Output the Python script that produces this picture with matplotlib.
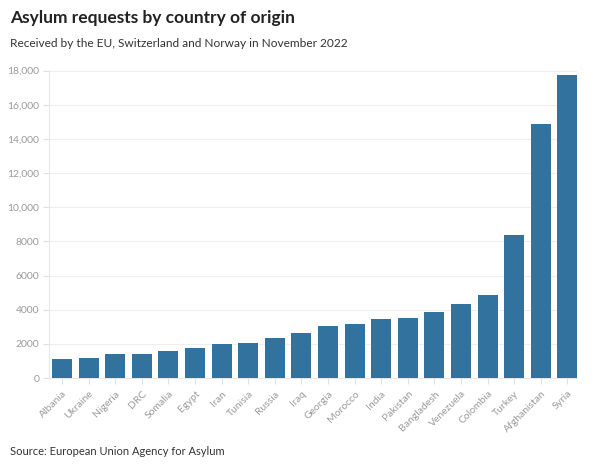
import matplotlib
matplotlib.use("Agg")
import matplotlib.pyplot as plt
from matplotlib.ticker import FuncFormatter

countries = ["Albania", "Ukraine", "Nigeria", "DRC", "Somalia", "Egypt", "Iran",
             "Tunisia", "Russia", "Iraq", "Georgia", "Morocco", "India", "Pakistan",
             "Bangladesh", "Venezuela", "Colombia", "Turkey", "Afghanistan", "Syria"]
requests = [1140, 1170, 1390, 1390, 1560, 1780, 1990, 2030, 2340, 2610,
            3020, 3140, 3450, 3490, 3880, 4340, 4850, 8350, 14890, 17730]
y_ticks = [0, 2000, 4000, 6000, 8000, 10000, 12000, 14000, 16000, 18000]

plt.rcParams['font.family'] = ['Lato', 'DejaVu Sans']

fig = plt.figure(figsize=(6, 4.73), dpi=100)
ax = fig.add_axes([0.0817, 0.2008, 0.88, 0.650])

x = range(len(countries))
ax.bar(x, requests, width=0.75, color='#32729e', zorder=3)

ax.set_xlim(-0.49, len(countries) - 0.64)
ax.set_ylim(0, 18000)
ax.set_yticks(y_ticks)

def fmt(v, pos):
    v = int(v)
    return f"{v:,}" if v >= 10000 else str(v)

ax.yaxis.set_major_formatter(FuncFormatter(fmt))
ax.grid(axis='y', color='#eeeeee', linewidth=0.8, zorder=0)

ax.set_xticks(list(x))
ax.set_xticklabels(countries, rotation=45, ha='right', rotation_mode='anchor')

for s in ['top', 'right']:
    ax.spines[s].set_visible(False)
ax.spines['left'].set_color('#e6e6e6')
ax.spines['bottom'].set_color('#e6e6e6')
ax.spines['left'].set_linewidth(0.8)
ax.spines['bottom'].set_linewidth(0.8)

ax.tick_params(axis='y', colors='#e0e0e0', labelcolor='#9a9a9a', labelsize=7.5, length=4, width=0.8, pad=3)
ax.tick_params(axis='x', colors='#e0e0e0', labelcolor='#9a9a9a', labelsize=7.5, length=4, width=0.8, pad=4)

fig.text(0.017, 0.962, "Asylum requests by country of origin", fontsize=12.5, fontweight='bold',
         color='#222222', ha='left', va='center')
fig.text(0.017, 0.907, "Received by the EU, Switzerland and Norway in November 2022", fontsize=8.6,
         color='#333333', ha='left', va='center')
fig.text(0.017, 0.045, "Source: European Union Agency for Asylum", fontsize=8,
         color='#333333', ha='left', va='center')

fig.savefig("out.png", dpi=100, facecolor='white')
